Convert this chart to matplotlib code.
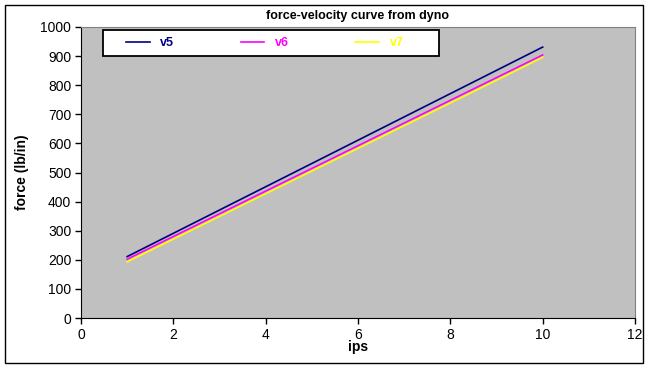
import matplotlib

matplotlib.use("Agg")
import matplotlib.pyplot as plt
from matplotlib.patches import Rectangle

# force-velocity readings from the dyno
ips = [1, 2, 3, 4, 5, 6, 7, 8, 9, 10]
v5 = [211, 291, 371, 451, 531, 611, 691, 771, 851, 931]
v6 = [202, 280, 358, 436, 514, 592, 670, 748, 826, 904]
v7 = [193, 271, 349, 427, 505, 583, 661, 739, 817, 896]
series_names = ["v5", "v6", "v7"]
series_colors = ["#000080", "#FF00FF", "#FFFF00"]

plt.rcParams["font.family"] = ["Liberation Sans", "DejaVu Sans"]

W, H = 650, 369
AX_L, AX_R, AX_T, AX_B = 81, 635, 27, 318
fig = plt.figure(figsize=(W / 100, H / 100), dpi=100)
fig.patch.set_facecolor("white")
fig.patches.append(Rectangle((5 / W, 1 - 363 / H), 638 / W, 358 / H,
                             transform=fig.transFigure, fill=False,
                             edgecolor="black", lw=1))

ax = fig.add_axes([AX_L / W, 1 - AX_B / H, (AX_R - AX_L) / W, (AX_B - AX_T) / H])
ax.set_facecolor("#C0C0C0")

for ys, name, c in zip([v5, v6, v7], series_names, series_colors):
    ax.plot(ips, ys, color=c, lw=1.2, label=name)

ax.set_xlim(0, 12)
ax.set_ylim(0, 1000)
ax.set_xticks(range(0, 13, 2))
ax.set_yticks(range(0, 1001, 100))
ax.tick_params(direction="out", length=4, width=1, labelsize=10, colors="black", pad=3)
for s in ("top", "right"):
    ax.spines[s].set_color("#808080")
for s in ("left", "bottom"):
    ax.spines[s].set_color("black")

ax.set_title("force-velocity curve from dyno", fontsize=9, fontweight="bold", pad=6)
ax.set_xlabel("ips", fontsize=10, fontweight="bold", labelpad=-1)
ax.set_ylabel("force (lb/in)", fontsize=10, fontweight="bold", labelpad=8)


def px_to_ax(x, y):
    return (x - AX_L) / (AX_R - AX_L), 1 - (y - AX_T) / (AX_B - AX_T)


# legend box is wider than its contents in the original, so draw it separately
bx0, by0 = px_to_ax(103, 56)
bx1, by1 = px_to_ax(439, 30)
ax.add_patch(Rectangle((bx0, by0), bx1 - bx0, by1 - by0, transform=ax.transAxes,
                       facecolor="white", edgecolor="black", lw=1.3,
                       clip_on=False, zorder=4.5))

leg = ax.legend(loc="center left", bbox_to_anchor=px_to_ax(126, 43),
                ncol=3, frameon=False, borderaxespad=0, borderpad=0,
                fontsize=9, handlelength=1.9, columnspacing=5.3,
                handletextpad=0.85)
leg.set_zorder(5)
for t, c in zip(leg.get_texts(), series_colors):
    t.set_color(c)
    t.set_fontweight("bold")

fig.savefig("out.png", dpi=100)
